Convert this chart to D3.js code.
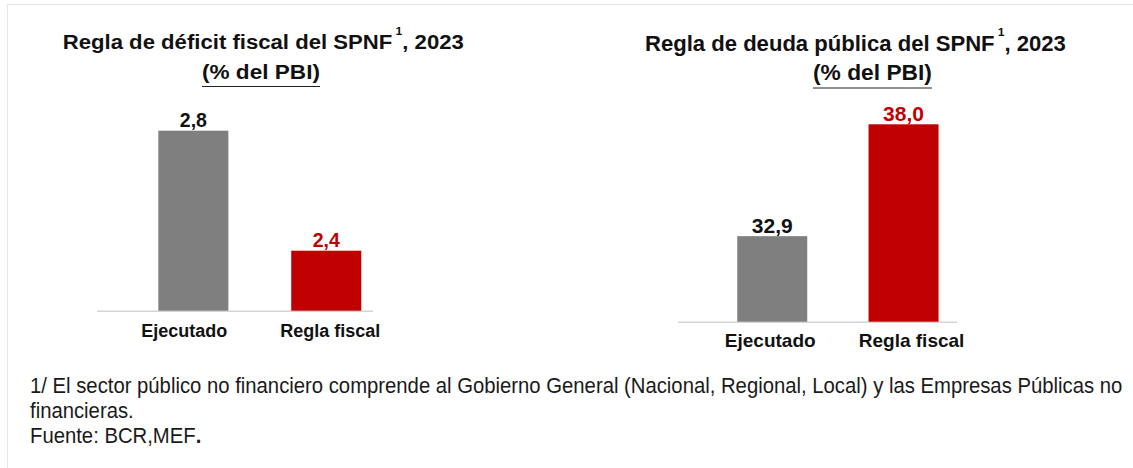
<!DOCTYPE html>
<html><head><meta charset="utf-8">
<script src="https://cdn.jsdelivr.net/npm/d3@7"></script>
<style>body{margin:0;background:#fff}svg{display:block}</style>
</head><body>
<svg id="c" width="1133" height="468"></svg>
<script>
// ---- data ----
const categories = ["Ejecutado", "Regla fiscal"];
const deficitValues = [2.8, 2.4];
const deudaValues = [32.9, 38.0];
const deficitDomain = [2.2, 2.8];
const deudaDomain = [29, 38];
const titleLeft = ["Regla de déficit fiscal del SPNF", "1", ", 2023"];
const titleRight = ["Regla de deuda pública del SPNF", "1", ", 2023"];
const subtitle = "(% del PBI)";
const footLine1 = "1/ El sector público no financiero comprende al Gobierno General (Nacional, Regional, Local) y las Empresas Públicas no";
const footLine2 = "financieras.";
const footLine3 = "Fuente: BCR,MEF";
const barColors = ["#7f7f7f", "#c00000"];
const valueColors = ["#111111", "#c00000"];

const fmt = d3.formatLocale({decimal: ",", thousands: ".", grouping: [3], currency: ["", ""]}).format(".1f");
const svg = d3.select("#c");
const font = "'Liberation Sans', Arial, sans-serif";

// faint frame
svg.append("line").attr("x1", 7).attr("x2", 1133).attr("y1", 4.5).attr("y2", 4.5).attr("stroke", "#e6e6e6");
svg.append("line").attr("x1", 7.5).attr("x2", 7.5).attr("y1", 4).attr("y2", 468).attr("stroke", "#e6e6e6");

const panels = [
  {values: deficitValues, domain: deficitDomain, title: titleLeft,
   xRange: [126.9, 392.7], pad: 0.473, yRange: [310.7, 130.7], base: [97, 373],
   titleX: 261.7, titleY: 49.3, titleW: 398, titleSize: 20.5, subX: 261, subY: 79, subUnder: 86.5, subW: 118,
   valSize: 19.5, catSize: 18, catY: 337, catDx: [-9, 4]},
  {values: deudaValues, domain: deudaDomain, title: titleRight,
   xRange: [706.6, 969.2], pad: 0.467, yRange: [321.7, 124.3], base: [678, 957],
   titleX: 854, titleY: 50.7, titleW: 418, titleSize: 21.5, subX: 872.5, subY: 80.5, subUnder: 88, subW: 119,
   valSize: 21, catSize: 19, catY: 347, catDx: [-2, 8]}
];

panels.forEach(p => {
  const g = svg.append("g");
  const x = d3.scaleBand().domain(categories).range(p.xRange).paddingInner(p.pad).paddingOuter(p.pad / 2);
  const y = d3.scaleLinear().domain(p.domain).range(p.yRange);

  // title
  const t = g.append("text").attr("font-family", font).attr("font-weight", "bold")
    .attr("font-size", p.titleSize).attr("fill", "#111").attr("y", p.titleY);
  t.append("tspan").text(p.title[0]);
  t.append("tspan").attr("font-size", p.titleSize * 0.55).attr("dy", -p.titleSize * 0.68).attr("dx", 3).text(p.title[1]);
  t.append("tspan").attr("dy", p.titleSize * 0.68).text(p.title[2]);
  const w = t.node().getComputedTextLength();
  const sx = p.titleW / w;
  t.attr("transform", `translate(${p.titleX - p.titleW / 2},0) scale(${sx},1)`);

  const s = g.append("text").attr("font-family", font).attr("font-weight", "bold")
    .attr("font-size", p.titleSize).attr("fill", "#111").attr("y", p.subY).text(subtitle);
  const sw = s.node().getComputedTextLength();
  s.attr("transform", `translate(${p.subX - p.subW / 2},0) scale(${p.subW / sw},1)`);
  g.append("line").attr("x1", p.subX - p.subW / 2).attr("x2", p.subX + p.subW / 2)
    .attr("y1", p.subUnder).attr("y2", p.subUnder).attr("stroke", "#222").attr("stroke-width", 1.2);

  // baseline
  g.append("line").attr("x1", p.base[0]).attr("x2", p.base[1])
    .attr("y1", p.yRange[0] + 0.5).attr("y2", p.yRange[0] + 0.5).attr("stroke", "#d4d4d4").attr("stroke-width", 1.5);

  // bars
  g.selectAll("rect.bar").data(p.values).join("rect").attr("class", "bar")
    .attr("x", (d, i) => x(categories[i])).attr("width", x.bandwidth())
    .attr("y", d => y(d)).attr("height", d => y(p.domain[0]) - y(d))
    .attr("fill", (d, i) => barColors[i]);

  // value labels
  g.selectAll("text.val").data(p.values).join("text").attr("class", "val")
    .attr("x", (d, i) => x(categories[i]) + x.bandwidth() / 2).attr("y", d => y(d) - 3.5)
    .attr("text-anchor", "middle").attr("font-family", font).attr("font-weight", "bold")
    .attr("font-size", p.valSize).attr("fill", (d, i) => valueColors[i]).text(d => fmt(d));

  // category axis
  const ax = g.append("g").attr("transform", `translate(0,${p.catY})`)
    .call(d3.axisBottom(x).tickSize(0).tickPadding(0));
  ax.select(".domain").remove();
  ax.selectAll("text").attr("dy", 0).attr("dx", (d, i) => p.catDx[i]).attr("font-family", font).attr("font-weight", "bold")
    .attr("font-size", p.catSize).attr("fill", "#111");
});

// footnotes
const nfont = "'Liberation Sans Narrow', 'Liberation Sans', Arial, sans-serif";
const fg = svg.append("g");
const l1 = fg.append("text").attr("y", 393).text(footLine1);
fg.append("text").attr("y", 418).text(footLine2);
const l3 = fg.append("text").attr("y", 443);
l3.append("tspan").text(footLine3);
l3.append("tspan").attr("font-weight", "bold").text(".");
fg.selectAll("text").attr("x", 0).attr("font-family", nfont).attr("font-size", 21.5).attr("fill", "#1a1a1a");
const fw = l1.node().getComputedTextLength();
fg.attr("transform", `translate(30,0) scale(${1093 / fw},1)`);
</script>
</body></html>
